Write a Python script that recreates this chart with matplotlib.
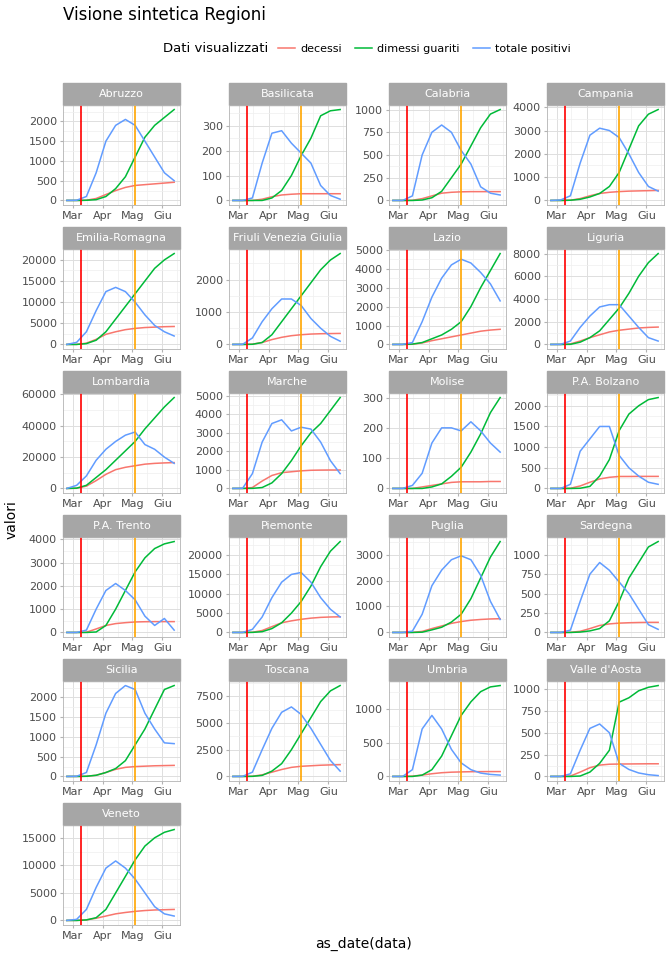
import matplotlib
matplotlib.use("Agg")
import matplotlib.pyplot as plt
import matplotlib.dates as mdates
from matplotlib.patches import Rectangle
from matplotlib.lines import Line2D
import numpy as np
import datetime as dt

dates = [dt.date(2020,2,24)+dt.timedelta(days=10*i) for i in range(12)]
regions = ["Abruzzo","Basilicata","Calabria","Campania","Emilia-Romagna","Friuli Venezia Giulia",
           "Lazio","Liguria","Lombardia","Marche","Molise","P.A. Bolzano","P.A. Trento","Piemonte",
           "Puglia","Sardegna","Sicilia","Toscana","Umbria","Valle d'Aosta","Veneto"]
y_tick_step = [500,100,250,1000,5000,1000,1000,2000,20000,1000,100,500,1000,5000,1000,250,500,2500,500,250,5000]
positivi = {
 "Abruzzo":[0,5,100,700,1500,1900,2050,1900,1500,1100,700,500],
 "Basilicata":[0,0,10,150,270,280,230,190,150,60,20,5],
 "Calabria":[0,0,50,500,750,830,750,550,400,150,80,60],
 "Campania":[0,20,200,1600,2800,3100,3000,2700,2000,1200,600,400],
 "Emilia-Romagna":[0,500,3000,8000,12500,13500,12500,10000,7000,4500,3000,2000],
 "Friuli Venezia Giulia":[0,5,200,700,1100,1400,1400,1200,800,500,250,100],
 "Lazio":[0,5,100,1200,2500,3500,4200,4500,4300,3800,3200,2300],
 "Liguria":[0,10,300,1500,2500,3300,3500,3500,2500,1500,600,300],
 "Lombardia":[0,2000,8000,18000,25000,30000,34000,36000,28000,25000,20000,16000],
 "Marche":[0,10,800,2500,3500,3700,3100,3300,3200,2500,1500,800],
 "Molise":[0,0,10,50,150,200,200,190,220,190,150,120],
 "P.A. Bolzano":[0,0,100,900,1200,1500,1500,800,500,300,150,100],
 "P.A. Trento":[0,0,100,1000,1800,2100,1800,1400,700,300,600,100],
 "Piemonte":[0,5,800,4000,9000,13000,15000,15500,13000,9000,6000,4000],
 "Puglia":[0,0,50,700,1800,2400,2800,2950,2800,2200,1200,500],
 "Sardegna":[0,0,30,400,750,900,800,650,500,300,100,40],
 "Sicilia":[0,5,100,800,1600,2100,2300,2200,1600,1200,850,830],
 "Toscana":[0,10,400,2500,4500,6000,6500,5800,4500,3000,1500,500],
 "Umbria":[0,0,100,700,900,700,400,200,100,50,30,20],
 "Valle d'Aosta":[0,0,30,300,550,600,500,150,80,40,20,10],
 "Veneto":[0,200,2000,6000,9500,10800,9500,7500,5000,2500,1200,800],
}
dimessi = {
 "Abruzzo":[0,0,5,20,100,300,600,1100,1600,1900,2100,2300],
 "Basilicata":[0,0,0,0,10,40,100,180,250,340,360,365],
 "Calabria":[0,0,0,5,30,100,250,400,600,800,950,1000],
 "Campania":[0,0,10,50,150,300,600,1200,2200,3200,3700,3900],
 "Emilia-Romagna":[0,0,200,1000,3000,6000,9000,12000,15000,18000,20000,21500],
 "Friuli Venezia Giulia":[0,0,5,60,300,700,1100,1500,1900,2300,2600,2800],
 "Lazio":[0,0,20,100,300,500,800,1200,2000,3000,3900,4800],
 "Liguria":[0,0,10,200,600,1200,2200,3200,4500,6000,7200,8000],
 "Lombardia":[0,200,2000,7000,12000,18000,24000,30000,38000,45000,52000,58000],
 "Marche":[0,0,5,50,300,800,1500,2300,3000,3500,4200,4900],
 "Molise":[0,0,0,0,5,15,40,70,120,180,250,300],
 "P.A. Bolzano":[0,0,0,5,50,300,700,1400,1800,2000,2150,2200],
 "P.A. Trento":[0,0,0,20,300,1000,1800,2600,3200,3600,3800,3900],
 "Piemonte":[0,0,20,200,1000,2500,5000,8000,12000,17000,21000,23500],
 "Puglia":[0,0,0,10,100,200,400,700,1300,2100,2900,3500],
 "Sardegna":[0,0,0,5,20,50,150,400,700,900,1100,1170],
 "Sicilia":[0,0,5,30,100,200,400,800,1200,1700,2200,2300],
 "Toscana":[0,0,10,100,500,1200,2500,4000,5500,7000,8000,8500],
 "Umbria":[0,0,0,20,100,300,600,900,1100,1250,1320,1340],
 "Valle d'Aosta":[0,0,0,5,50,150,300,850,900,980,1020,1040],
 "Veneto":[0,5,100,500,2000,5000,8000,11000,13500,15000,16000,16500],
}
decessi = {
 "Abruzzo":[0,0,5,50,150,250,330,380,400,420,440,460],
 "Basilicata":[0,0,0,5,15,22,25,27,27,27,27,27],
 "Calabria":[0,0,2,20,50,80,90,95,97,97,97,97],
 "Campania":[0,0,10,80,200,300,350,380,400,410,420,430],
 "Emilia-Romagna":[0,20,300,1200,2400,3000,3500,3800,4000,4100,4200,4250],
 "Friuli Venezia Giulia":[0,0,10,60,150,220,270,300,320,330,335,340],
 "Lazio":[0,0,10,80,200,300,400,500,600,700,760,800],
 "Liguria":[0,0,50,300,600,850,1100,1250,1350,1450,1500,1530],
 "Lombardia":[0,100,1500,5000,9000,12000,13500,14500,15500,16000,16300,16500],
 "Marche":[0,0,50,400,700,850,900,950,980,990,995,995],
 "Molise":[0,0,0,5,10,15,20,22,22,22,23,23],
 "P.A. Bolzano":[0,0,5,60,150,230,270,290,290,292,292,292],
 "P.A. Trento":[0,0,10,150,300,380,420,450,460,465,465,465],
 "Piemonte":[0,0,50,500,1500,2500,3000,3400,3700,3900,4000,4050],
 "Puglia":[0,0,5,40,150,250,350,420,470,500,520,530],
 "Sardegna":[0,0,2,15,50,90,110,120,125,128,130,130],
 "Sicilia":[0,0,5,30,100,180,230,250,260,270,275,280],
 "Toscana":[0,0,20,150,400,650,850,950,1000,1050,1080,1100],
 "Umbria":[0,0,5,20,40,55,63,67,70,71,72,72],
 "Valle d'Aosta":[0,0,5,50,100,130,140,142,143,144,145,145],
 "Veneto":[0,5,100,400,800,1200,1450,1650,1800,1900,1950,2000],
}
series = [("decessi", decessi, "#F8766D"), ("dimessi guariti", dimessi, "#00BA38"),
          ("totale positivi", positivi, "#619CFF")]
month_ticks = [dt.date(2020,3,1),dt.date(2020,4,1),dt.date(2020,5,1),dt.date(2020,6,1)]
month_labels = ["Mar","Apr","Mag","Giu"]
red_line = dt.date(2020,3,9)
orange_line = dt.date(2020,5,4)

W, H = 672, 960
fig = plt.figure(figsize=(6.72, 9.6), dpi=100)
lefts = [63, 229, 389, 547]
pw = 117
strip_tops = [83, 227, 371, 515, 659, 803]
sh = 22
ph = 100
for i, reg in enumerate(regions):
    r, c = divmod(i, 4)
    top = strip_tops[r] + sh
    ax = fig.add_axes([lefts[c]/W, 1-(top+ph)/H, pw/W, ph/H])
    for name, d, col in series:
        ax.plot(dates, d[reg], color=col, lw=1.1)
    ax.axvline(red_line, color="red", lw=1.2)
    ax.axvline(orange_line, color="orange", lw=1.2)
    ax.set_xlim(dt.date(2020,2,20), dt.date(2020,6,19))
    ymax = max(max(positivi[reg]), max(dimessi[reg]), max(decessi[reg]))
    ax.set_ylim(-0.05*ymax, ymax*1.05)
    ax.set_xticks(month_ticks)
    ax.set_xticklabels(month_labels)
    ax.xaxis.set_minor_locator(mdates.DayLocator(bymonthday=16))
    ax.yaxis.set_major_locator(matplotlib.ticker.MultipleLocator(y_tick_step[i]))
    ax.yaxis.set_minor_locator(matplotlib.ticker.MultipleLocator(y_tick_step[i]/2))
    ax.grid(True, which="major", color="#DEDEDE", lw=0.7)
    ax.grid(True, which="minor", color="#EFEFEF", lw=0.5)
    ax.set_axisbelow(True)
    ax.tick_params(labelsize=8, colors="#4D4D4D", length=2.5, color="#B3B3B3", pad=2)
    ax.tick_params(which="minor", length=0)
    for s in ax.spines.values():
        s.set_color("#B3B3B3"); s.set_linewidth(0.6)
    ax.add_patch(Rectangle((0,1), 1, sh/ph, transform=ax.transAxes, facecolor="#A6A6A6",
                           edgecolor="#A6A6A6", clip_on=False))
    ax.text(0.5, 1+sh/ph/2, reg, transform=ax.transAxes, ha="center", va="center",
            color="white", fontsize=8)

fig.text(63/W, 1-15/H, "Visione sintetica Regioni", fontsize=12, va="center")
fig.text(163/W, 1-49/H, "Dati visualizzati", fontsize=9.5, va="center")
handles = [Line2D([], [], color=col, lw=1.1) for _, _, col in series]
fig.legend(handles, [s[0] for s in series], loc="center left", bbox_to_anchor=(268/W, 1-49/H),
           ncol=3, frameon=False, fontsize=8, handlelength=1.5, columnspacing=1.2,
           handletextpad=0.5)
fig.text(364/W, 1-944/H, "as_date(data)", fontsize=10, ha="center", va="center")
fig.text(12/W, 1-520/H, "valori", fontsize=10, rotation=90, ha="center", va="center")
fig.savefig("out.png", dpi=100, facecolor="white")
